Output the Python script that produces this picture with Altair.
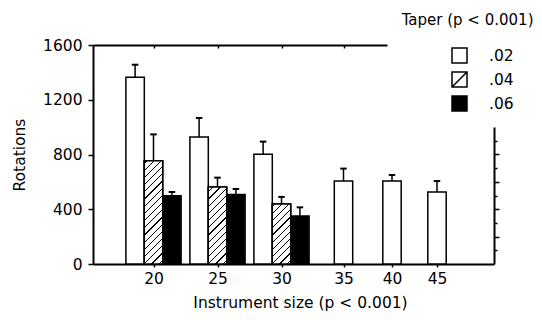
import altair as alt
import pandas as pd

# ---- data ----
sizes = [20, 20, 20, 25, 25, 25, 30, 30, 30, 35, 40, 45]
tapers = [".02", ".04", ".06", ".02", ".04", ".06", ".02", ".04", ".06", ".02", ".02", ".02"]
rotations = [1364, 755, 499, 928, 563, 507, 801, 438, 351, 606, 606, 526]
errors = [92, 192, 27, 139, 68, 41, 93, 52, 63, 91, 44, 80]

taper_levels = [".02", ".04", ".06"]
size_ticks = [20, 25, 30, 35, 40, 45]

# slot of each bar within its group (-1, 0, +1 for groups of three, 0 for single bars)
slots = []
for s, t in zip(sizes, tapers):
    present = [tt for ss, tt in zip(sizes, tapers) if ss == s]
    slots.append(int(present.index(t) - (len(present) - 1) / 2))

df = pd.DataFrame({"size": sizes, "taper": tapers, "rotations": rotations,
                   "error": errors, "slot": slots})

# ---- layout ----
W, H = 401, 219
BAR_W = 18.4
FONT = "DejaVu Sans"
FS = 15.5

xscale = alt.Scale(domain=[15, 20, 25, 30, 35, 40, 45, 50],
                   range=[0, 60.5, 124.5, 188.5, 250.5, 299, 344, W],
                   nice=False, zero=False, padding=0)
yscale = alt.Scale(domain=[0, 1600], nice=False, zero=False)

X = alt.X("size:Q", scale=xscale,
          axis=alt.Axis(orient="bottom", values=size_ticks, format="d", tickSize=3,
                        labelPadding=4, title="Instrument size (p < 0.001)",
                        titleX=207, titlePadding=9))
Y = alt.Y("rotations:Q", scale=yscale,
          axis=alt.Axis(orient="left", values=list(range(0, 1700, 100)), format="d",
                        labelExpr="datum.value % 400 === 0 ? datum.label : ''",
                        tickSize={"condition": {"test": "datum.value % 400 === 0", "value": 5}, "value": 3},
                        labelPadding=6, title="Rotations", titlePadding=15))

base = alt.Chart(df)

layers = []
# bars
for s in [-1, 0, 1]:
    layers.append(
        base.transform_filter(alt.datum.slot == s)
        .mark_bar(width=BAR_W, xOffset=s * BAR_W, stroke="black", strokeWidth=1.5)
        .encode(x=X, y=Y,
                fill=alt.condition(alt.datum.taper == ".06", alt.value("black"), alt.value("white")))
    )


def hatch_gradient(value):
    h = value * H / 1600.0
    w = BAR_W
    L = w + h
    k = L / (w * w + h * h)
    period, half = 7.2, 0.6
    c = h % period - period
    stops = [{"offset": 0, "color": "white"}]
    while c < L + half:
        a = max(0.0, (c - half) / L)
        b = min(1.0, (c + half) / L)
        if b > 0 and a < 1:
            stops += [{"offset": a, "color": "white"}, {"offset": a, "color": "black"},
                      {"offset": b, "color": "black"}, {"offset": b, "color": "white"}]
        c += period
    stops.append({"offset": 1, "color": "white"})
    return {"gradient": "linear", "x1": 0, "y1": 0, "x2": k * w, "y2": k * h, "stops": stops}


for s, t, v, sl in zip(sizes, tapers, rotations, slots):
    if t == ".04":
        layers.append(
            base.transform_filter((alt.datum.size == s) & (alt.datum.taper == t))
            .mark_bar(width=BAR_W, xOffset=sl * BAR_W, stroke="black", strokeWidth=1.5,
                      fill=hatch_gradient(v))
            .encode(x=X, y=Y)
        )

# error bars
for s in [-1, 0, 1]:
    eb = base.transform_filter(alt.datum.slot == s).transform_calculate(
        top="datum.rotations + datum.error")
    layers.append(
        eb.mark_rule(xOffset=s * BAR_W, strokeWidth=1.5, color="black")
        .encode(x=X, y=Y, y2="top:Q")
    )
    layers.append(
        eb.mark_tick(orient="horizontal", size=6.5, thickness=2, xOffset=s * BAR_W,
                     color="black", opacity=1)
        .encode(x=X, y=alt.Y("top:Q", scale=yscale))
    )

main = alt.layer(*layers)

# legend + partial top and right frame axes
shape_sq = "M-1,-1H1V1H-1Z"
shape_hatch = "M-1,-1H1V1H-1Z M-1,1L1,-1"
leg = alt.Legend(title=None, orient="none", legendX=358, legendY=2, padding=0,
                 symbolSize=225, symbolStrokeColor="black", symbolStrokeWidth=1.5,
                 symbolOpacity=1, labelFont=FONT, labelFontSize=FS, labelColor="black",
                 labelOffset=21, rowPadding=3)

frame = alt.Chart(df).mark_point(filled=True, size=225, strokeWidth=1.5).encode(
    x=alt.X("size:Q",
            scale=alt.Scale(domain=[15, 20, 25, 30, 35, 38], range=[0, 60.5, 124.5, 188.5, 250.5, 294],
                            nice=False, zero=False, padding=0),
            axis=alt.Axis(orient="top", values=[20, 25, 30, 35], labels=False,
                          title="Taper (p < 0.001)", titleX=440, titleY=-20.5,
                          titleAlign="right", titleAnchor="end", titleBaseline="alphabetic",
                          titleFontSize=15,
                          tickSize={"expr": "-3"})),
    y=alt.Y("rotations:Q",
            scale=alt.Scale(domain=[0, 1000], range=[H, H - 137], nice=False, zero=False),
            axis=alt.Axis(orient="right", values=list(range(100, 1000, 100)), labels=False,
                          title=None,
                          tickSize={"condition": {"test": "datum.value % 200 === 0", "value": 5}, "value": 3})),
    fill=alt.Fill("taper:N", scale=alt.Scale(domain=taper_levels, range=["white", "white", "black"]),
                  legend=leg),
    stroke=alt.Stroke("taper:N", scale=alt.Scale(domain=taper_levels, range=["black", "black", "black"]),
                      legend=leg),
    shape=alt.Shape("taper:N", scale=alt.Scale(domain=taper_levels, range=[shape_sq, shape_hatch, shape_sq]),
                    legend=leg),
    opacity=alt.value(0),
)

chart = alt.layer(main, frame).resolve_scale(
    x="independent", y="independent"
).properties(
    width=W, height=H,
    autosize=alt.AutoSizeParams(type="none"),
    padding={"left": 85, "top": 37, "right": 40, "bottom": 48},
).configure_view(stroke=None).configure_axis(
    domainColor="black", domainWidth=2, tickColor="black", tickWidth=1.5,
    labelColor="black", labelFont=FONT, labelFontSize=FS,
    titleColor="black", titleFont=FONT, titleFontSize=FS, titleFontWeight="normal",
    grid=False,
)

chart.save("out.html", embed_options={"renderer": "svg", "actions": False})
